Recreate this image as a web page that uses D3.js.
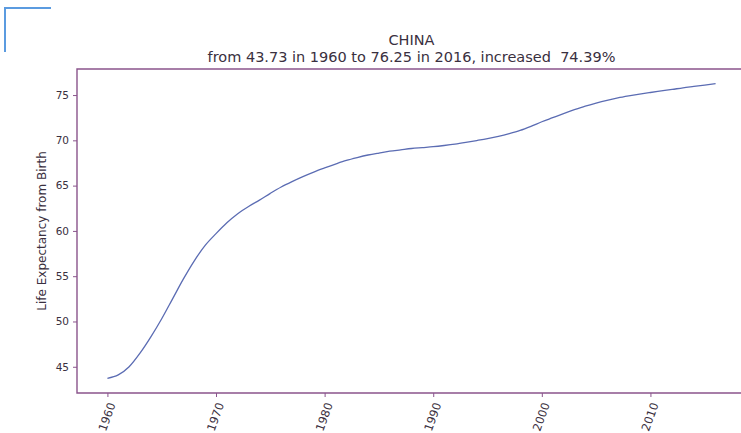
<!DOCTYPE html>
<html>
<head>
<meta charset="utf-8">
<script src="https://cdn.jsdelivr.net/npm/d3@7"></script>
<style>
  html, body { margin: 0; padding: 0; background: #fff; overflow: hidden; }
  svg { display: block; font-family: "DejaVu Sans", sans-serif; }
</style>
</head>
<body>
<svg id="chart" width="741" height="433"></svg>
<script>
const titleLine1 = "CHINA";
const titleLine2 = "from 43.73 in 1960 to 76.25 in 2016, increased  74.39%";
const yLabel = "Life Expectancy from Birth";

const years = d3.range(1960, 2017);
const lifeExpectancy = [
  43.73, 44.1, 45.0, 46.5, 48.3, 50.3, 52.5, 54.7, 56.7, 58.4,
  59.7, 60.9, 61.9, 62.7, 63.4, 64.15, 64.85, 65.45, 66.0, 66.5,
  66.95, 67.38, 67.78, 68.1, 68.38, 68.6, 68.8, 68.95, 69.1, 69.2,
  69.3, 69.43, 69.58, 69.77, 69.98, 70.2, 70.45, 70.75, 71.1, 71.55,
  72.05, 72.5, 72.95, 73.38, 73.78, 74.12, 74.42, 74.68, 74.9, 75.1,
  75.28, 75.45, 75.62, 75.8, 75.95, 76.1, 76.25
];
const xTicks = [1960, 1970, 1980, 1990, 2000, 2010];
const yTicks = [45, 50, 55, 60, 65, 70, 75];

const data = years.map((y, i) => ({ year: y, value: lifeExpectancy[i] }));

const svg = d3.select("#chart");
const plot = { left: 77, top: 69, right: 746, bottom: 393 };

const frameColor = "#8a548c";
const textColor = "#3a3040";
const lineColor = "#5b6cb3";

// matplotlib-like 5% margins
const xExt = d3.extent(years), yExt = d3.extent(lifeExpectancy);
const xPad = (xExt[1] - xExt[0]) * 0.05, yPad = (yExt[1] - yExt[0]) * 0.05;
const x = d3.scaleLinear().domain([xExt[0] - xPad, xExt[1] + xPad]).range([plot.left, plot.right]);
const y = d3.scaleLinear().domain([yExt[0] - yPad, yExt[1] + yPad]).range([plot.bottom, plot.top]);

// decorative blue corner bracket
svg.append("path")
  .attr("d", "M5,52 L5,8 L51,8")
  .attr("fill", "none").attr("stroke", "#5b9be0").attr("stroke-width", 2);

// titles
svg.append("text").attr("x", (plot.left + plot.right) / 2).attr("y", 45)
  .attr("text-anchor", "middle").attr("font-size", 14.5).attr("fill", textColor)
  .text(titleLine1);
svg.append("text").attr("x", (plot.left + plot.right) / 2).attr("y", 62)
  .attr("text-anchor", "middle").attr("font-size", 14.5).attr("fill", textColor)
  .style("white-space", "pre")
  .text(titleLine2);

// line
svg.append("path").datum(data)
  .attr("fill", "none").attr("stroke", lineColor).attr("stroke-width", 1.3)
  .attr("d", d3.line().x(d => x(d.year)).y(d => y(d.value)).curve(d3.curveMonotoneX));

// axes
const yAxis = svg.append("g").attr("transform", `translate(${plot.left},0)`)
  .call(d3.axisLeft(y).tickValues(yTicks).tickSize(4).tickPadding(4).tickFormat(d3.format("d")));
const xAxis = svg.append("g").attr("transform", `translate(0,${plot.bottom})`)
  .call(d3.axisBottom(x).tickValues(xTicks).tickSize(4).tickFormat(d3.format("d")));

[yAxis, xAxis].forEach(g => {
  g.select(".domain").remove();
  g.selectAll(".tick line").attr("stroke", frameColor);
  g.selectAll(".tick text").attr("fill", textColor).attr("font-size", 10.5)
    .attr("font-family", "DejaVu Sans, sans-serif");
});

xAxis.selectAll(".tick text")
  .attr("font-size", 11.5)
  .attr("text-anchor", "end")
  .attr("dy", "0.35em")
  .attr("transform", "translate(4,10) rotate(-70)")
  .attr("x", 0).attr("y", 0);

// frame (top, left, bottom visible; right is beyond the canvas)
svg.append("path")
  .attr("d", `M${plot.right},${plot.top} L${plot.left},${plot.top} L${plot.left},${plot.bottom} L${plot.right},${plot.bottom}`)
  .attr("fill", "none").attr("stroke", frameColor).attr("stroke-width", 1.4);

// y label
svg.append("text")
  .attr("transform", `translate(46,${(plot.top + plot.bottom) / 2}) rotate(-90)`)
  .attr("text-anchor", "middle").attr("font-size", 12).attr("fill", textColor)
  .text(yLabel);
</script>
</body>
</html>
